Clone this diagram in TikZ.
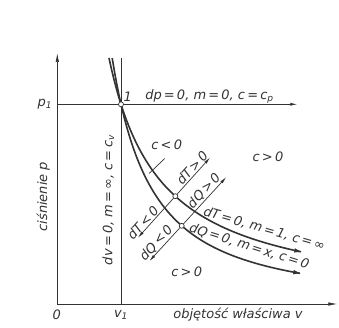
\documentclass[tikz,border=0pt]{standalone}
\usepackage{fontspec}
\setmainfont{DejaVu Sans}
\usepackage{tikz}
\usetikzlibrary{arrows.meta,positioning}
\definecolor{ink}{gray}{0.2}

\begin{document}
\begin{tikzpicture}[
  x=1pt, y=1pt,
  every node/.style={font=\itshape\fontsize{13}{15}\selectfont, text=ink, inner sep=1pt},
  thinline/.style={draw=ink, line width=0.7pt},
  axis/.style={thinline, -{Latex[length=9pt,width=3.5pt]}},
  arr/.style={thinline, -{Latex[length=7pt,width=3pt]}},
  curve/.style={draw=ink, line width=1.6pt, -{Latex[length=9pt,width=4.5pt]}},
  state/.style={circle, draw=ink, fill=white, line width=0.7pt, minimum size=5pt, inner sep=0pt}
]
  \useasboundingbox (-57.3,-23) rectangle (281.7,304);

  \coordinate (O) at (0,0);
  \coordinate (Ytop) at (0,251);
  \coordinate (Xend) at (280,0);
  \coordinate (P1) at (63.7,199.7);
  \coordinate (Pend) at (240,199.7);
  \coordinate (V1top) at (63.7,246);
  \coordinate (A) at (118,107.8);
  \coordinate (B) at (124.4,78.2);
  \coordinate (K) at (95.1,133.7);
  \path (A) ++(48:52) coordinate (Tp) (A) ++(228:56) coordinate (Tm);
  \path (B) ++(47.5:66) coordinate (Qp) (B) ++(227.5:48) coordinate (Qm);
  \path (K) ++(223.7:4.5) coordinate (Ka) (K) ++(43.7:17) coordinate (Kb);

  \draw[axis] (O) -- (Ytop);
  \draw[axis] (O) -- (Xend);
  \draw[arr] (O |- P1) -- (Pend);
  \draw[thinline] (P1 |- O) -- (V1top);

  \draw[curve] plot[domain=51.7:246, samples=80] (\x, {12721/\x});
  \draw[curve] plot[domain=54.9:245, samples=80] (\x, {199.7*(63.7/\x)^1.4});

  \draw[arr] (A) -- (Tp) node[pos=0.62, sloped, above] {dT\,>\,0};
  \draw[arr] (A) -- (Tm) node[pos=0.74, sloped, above] {dT\,<\,0};
  \draw[arr] (B) -- (Qp) node[pos=0.62, sloped, above] {dQ\,>\,0};
  \draw[arr] (B) -- (Qm) node[pos=0.62, sloped, above] {dQ\,<\,0};
  \draw[thinline] (Ka) -- (Kb);

  \node[state] (s1) at (P1) {};
  \node[state] (sA) at (A) {};
  \node[state] (sB) at (B) {};

  \node (one) at (70.4,207.3) {1};
  \node (cplab) at (152.2,207.3) {dp\,=\,0, m\,=\,0, c\,=\,c\textsubscript{p}};
  \node[rotate=90] (cvlab) at (51,104) {dv\,=\,0, m\,=\,∞, c\,=\,c\textsubscript{v}};
  \node[rotate=-16] (tlab) at (207,75) {dT\,=\,0, m\,=\,1, c\,=\,∞};
  \node[rotate=-17.5] (qlab) at (192,57.5) {dQ\,=\,0, m\,=\,x, c\,=\,0};
  \node (cneg) at (109.4,159) {c\,<\,0};
  \node (cpos) at (210.7,147.3) {c\,>\,0};
  \node (cposb) at (129.4,32.3) {c\,>\,0};
  \node (p1lab) at (-12.3,200) {p\textsubscript{1}};
  \node[rotate=90] (plab) at (-14,107.3) {ciśnienie p};
  \node (zero) at (-0.6,-11) {0};
  \node (v1lab) at (63.7,-11) {v\textsubscript{1}};
  \node (vlab) at (180.7,-11) {objętość właściwa v};
\end{tikzpicture}
\end{document}
